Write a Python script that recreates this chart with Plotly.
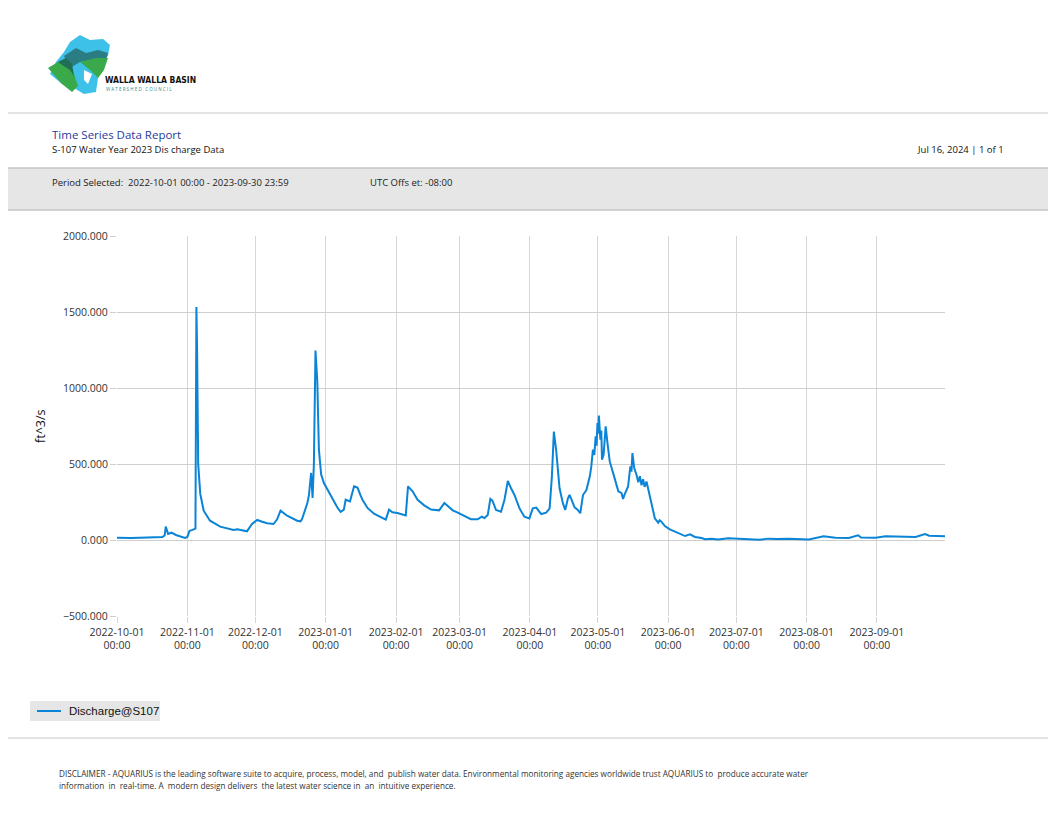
import plotly.graph_objects as go

# discharge readings (ft^3/s)
times = [
    "2022-10-01 00:00", "2022-10-04", "2022-10-07", "2022-10-11", "2022-10-15", "2022-10-19",
    "2022-10-21", "2022-10-22 00:00", "2022-10-22 12:00", "2022-10-23 12:00", "2022-10-25", "2022-10-27",
    "2022-10-29", "2022-10-31", "2022-11-01", "2022-11-02", "2022-11-03", "2022-11-04 00:00",
    "2022-11-04 14:00", "2022-11-05 00:00", "2022-11-05 07:00", "2022-11-05 19:00", "2022-11-06 17:00",
    "2022-11-08 05:00", "2022-11-11", "2022-11-15 12:00", "2022-11-21 10:00", "2022-11-23",
    "2022-11-25 19:00", "2022-11-27 07:00", "2022-11-29 12:00", "2022-12-01 19:00", "2022-12-04",
    "2022-12-06 05:00", "2022-12-09", "2022-12-10 14:00", "2022-12-12 02:00", "2022-12-15",
    "2022-12-19 10:00", "2022-12-20 22:00", "2022-12-21 14:00", "2022-12-22 10:00", "2022-12-23 22:00",
    "2022-12-24 14:00", "2022-12-25 14:00", "2022-12-26 05:00", "2022-12-26 19:00", "2022-12-27 12:00",
    "2022-12-28 07:00", "2022-12-29 00:00", "2022-12-30", "2022-12-31 05:00", "2023-01-03 05:00",
    "2023-01-06 02:00", "2023-01-07 14:00", "2023-01-09 00:00", "2023-01-09 19:00", "2023-01-11 17:00",
    "2023-01-13 12:00", "2023-01-15", "2023-01-16 10:00", "2023-01-17 05:00", "2023-01-19 10:00",
    "2023-01-22 07:00", "2023-01-25 07:00", "2023-01-27 12:00", "2023-01-28 22:00", "2023-01-30 10:00",
    "2023-02-01 14:00", "2023-02-05 07:00", "2023-02-06 07:00", "2023-02-08 07:00", "2023-02-10 12:00",
    "2023-02-13 10:00", "2023-02-16 10:00", "2023-02-20", "2023-02-22 07:00", "2023-02-24",
    "2023-02-26", "2023-02-28 05:00", "2023-03-03 02:00", "2023-03-06", "2023-03-09",
    "2023-03-10 19:00", "2023-03-12", "2023-03-13 10:00", "2023-03-14 14:00", "2023-03-15 12:00",
    "2023-03-17 02:00", "2023-03-19 07:00", "2023-03-20 19:00", "2023-03-22 07:00", "2023-03-23 17:00",
    "2023-03-25 05:00", "2023-03-27 10:00", "2023-03-29 14:00", "2023-03-31 19:00", "2023-04-02 07:00",
    "2023-04-03 19:00", "2023-04-06", "2023-04-08 05:00", "2023-04-09 17:00", "2023-04-10 17:00",
    "2023-04-11 14:00", "2023-04-12 14:00", "2023-04-14 02:00", "2023-04-15 14:00", "2023-04-16 14:00",
    "2023-04-17 19:00", "2023-04-18 12:00", "2023-04-19 12:00", "2023-04-20 17:00", "2023-04-22",
    "2023-04-23 05:00", "2023-04-24 10:00", "2023-04-25 22:00", "2023-04-27 10:00", "2023-04-28 02:00",
    "2023-04-28 19:00", "2023-04-29 10:00", "2023-04-30 00:00", "2023-04-30 10:00", "2023-04-30 19:00",
    "2023-05-01 02:00", "2023-05-01 10:00", "2023-05-02 02:00", "2023-05-02 12:00", "2023-05-02 19:00",
    "2023-05-03 12:00", "2023-05-04 10:00", "2023-05-05 05:00", "2023-05-06 05:00", "2023-05-07 17:00",
    "2023-05-09 05:00", "2023-05-10", "2023-05-11 10:00", "2023-05-12 02:00", "2023-05-12 19:00",
    "2023-05-14 07:00", "2023-05-15 07:00", "2023-05-15 19:00", "2023-05-16 05:00", "2023-05-17",
    "2023-05-18 00:00", "2023-05-18 19:00", "2023-05-19 12:00", "2023-05-20 05:00", "2023-05-20 22:00",
    "2023-05-21 14:00", "2023-05-22 10:00", "2023-05-23 10:00", "2023-05-24 14:00", "2023-05-26 02:00",
    "2023-05-27 14:00", "2023-05-28 05:00", "2023-05-29", "2023-05-30 12:00", "2023-06-01 17:00",
    "2023-06-04 17:00", "2023-06-06 22:00", "2023-06-08 10:00", "2023-06-10 14:00", "2023-06-12 19:00",
    "2023-06-15 17:00", "2023-06-17 05:00", "2023-06-20", "2023-06-23", "2023-06-27 12:00",
    "2023-07-01", "2023-07-05", "2023-07-11", "2023-07-15", "2023-07-19", "2023-07-24",
    "2023-07-28", "2023-08-02", "2023-08-08 12:00", "2023-08-13 17:00", "2023-08-19 14:00",
    "2023-08-23 17:00", "2023-08-25", "2023-08-31 10:00", "2023-09-04 19:00", "2023-09-12 05:00",
    "2023-09-18", "2023-09-22 05:00", "2023-09-24", "2023-09-30 23:45",
]
discharge = [
    15, 12, 13, 15, 16, 17,
    19, 30, 88, 40, 48, 33,
    25, 14, 20, 60, 65, 70,
    75, 1533, 1270, 500, 303,
    193, 127, 88, 66, 70,
    62, 57, 105, 132, 120,
    110, 105, 136, 193, 160,
    127, 123, 138, 178, 243,
    292, 441, 277, 500, 1246,
    1044, 594, 430, 375, 295,
    215, 185, 200, 265, 254,
    353, 345, 292, 265, 211,
    173, 151, 134, 200, 182,
    178, 162, 353, 320, 265,
    228, 200, 195, 243, 222,
    195, 180, 156, 137, 136,
    153, 145, 164, 270, 259,
    197, 186, 263, 388, 340,
    296, 208, 153, 142, 208,
    213, 171, 180, 208, 417,
    713, 592, 340, 241, 198,
    274, 297, 260, 215, 200,
    176, 296, 329, 417, 484,
    594, 560, 682, 620, 770,
    700, 818, 660, 720, 528,
    560, 748, 638, 517, 440,
    348, 320, 308, 270, 300,
    352, 484, 450, 572, 473,
    429, 380, 420, 360, 400,
    350, 385, 319, 220, 143,
    114, 130, 121, 92, 70,
    48, 37, 26, 37, 20,
    13, 5, 8, 4, 12,
    8, 4, 1, 9, 6, 9,
    7, 4, 24, 15, 13,
    31, 16, 15, 24, 22,
    20, 39, 28, 24,
]
series_name = "Discharge@S107"
month_ticks = [
    "2022-10-01", "2022-11-01", "2022-12-01", "2023-01-01", "2023-02-01", "2023-03-01",
    "2023-04-01", "2023-05-01", "2023-06-01", "2023-07-01", "2023-08-01", "2023-09-01",
]

# page is drawn with the browser's 8px body margin, so work in page pixels minus 8
OFF = 8
W, H = 1056 - OFF, 816 - OFF
L, R, T, B = 117, 945, 236, 616


def px(x):
    return (x - L) / (R - L)


def py(y):
    return (B - y) / (B - T)


def poly(points):
    return "M " + " L ".join(f"{px(a):.4f},{py(b):.4f}" for a, b in points) + " Z"


fig = go.Figure()
fig.add_trace(go.Scatter(
    x=times, y=discharge, mode="lines", name=series_name,
    line=dict(color="#0a84d6", width=2),
))

shapes = [
    # header separators and grey band
    dict(type="line", x0=px(0), x1=px(1056), y0=py(113), y1=py(113), line=dict(color="#c8c8c8", width=1)),
    dict(type="rect", x0=px(0), x1=px(1056), y0=py(168), y1=py(210), fillcolor="#e6e6e6",
         line=dict(width=0), layer="below"),
    dict(type="line", x0=px(0), x1=px(1056), y0=py(168), y1=py(168), line=dict(color="#c4c4c4", width=1.5)),
    dict(type="line", x0=px(0), x1=px(1056), y0=py(210), y1=py(210), line=dict(color="#c4c4c4", width=1.5)),
    dict(type="line", x0=px(0), x1=px(1056), y0=py(738), y1=py(738), line=dict(color="#c8c8c8", width=1)),
    # rough logo
    dict(type="path", path=poly([(70, 42), (80, 35), (90, 40), (103, 39), (110, 45), (108, 56), (100, 64),
                                 (98, 78), (96, 92), (84, 94), (74, 88), (62, 84), (50, 74), (56, 62), (64, 52)]),
         fillcolor="#3dc1e8", line=dict(width=0)),
    dict(type="path", path=poly([(64, 56), (76, 48), (86, 53), (98, 50), (108, 53), (106, 60), (92, 60),
                                 (80, 62), (70, 68)]),
         fillcolor="#2b7d84", line=dict(width=0)),
    dict(type="path", path=poly([(48, 68), (58, 62), (68, 66), (74, 74), (78, 86), (72, 92), (62, 84)]),
         fillcolor="#3aa94a", line=dict(width=0)),
    dict(type="path", path=poly([(58, 62), (66, 58), (72, 64), (74, 76), (70, 70)]),
         fillcolor="#1f6e55", line=dict(width=0)),
    dict(type="path", path=poly([(80, 62), (96, 58), (108, 58), (104, 70), (98, 78), (90, 70)]),
         fillcolor="#3aa94a", line=dict(width=0)),
    dict(type="path", path=poly([(84, 70), (92, 74), (88, 84), (84, 80)]),
         fillcolor="#ffffff", line=dict(width=0)),
    # legend box
    dict(type="rect", x0=px(30), x1=px(160), y0=py(701), y1=py(721), fillcolor="#e6e6e6", line=dict(width=0)),
    dict(type="line", x0=px(37), x1=px(61), y0=py(711), y1=py(711), line=dict(color="#0a84d6", width=2)),
]
for s in shapes:
    s.update(xref="paper", yref="paper")

annotations = [
    dict(x=px(50), y=py(135), text="Time Series Data Report", font=dict(size=11.5, color="#1f3c9c")),
    dict(x=px(50), y=py(149), text="S-107 Water Year 2023 Dis charge Data", font=dict(size=9.5, color="#111111")),
    dict(x=px(1006), y=py(149), text="Jul 16, 2024 | 1 of 1", xanchor="right",
         font=dict(size=9.5, color="#111111")),
    dict(x=px(50), y=py(182), text="Period Selected:  2022-10-01 00:00 - 2023-09-30 23:59",
         font=dict(size=9.5, color="#222222")),
    dict(x=px(368), y=py(182), text="UTC Offs et: -08:00", font=dict(size=9.5, color="#222222")),
    dict(x=px(103), y=py(80), text="<b>WALLA WALLA BASIN</b>",
         font=dict(size=8.5, color="#111111", family="DejaVu Sans Condensed")),
    dict(x=px(104), y=py(89), text="W A T E R S H E D   C O U N C I L",
         font=dict(size=4.5, color="#2b8a90")),
    dict(x=px(57), y=py(773),
         text="DISCLAIMER - AQUARIUS is the leading software suite to acquire, process, model, and  publish water data. "
              "Environmental monitoring agencies worldwide trust AQUARIUS to  produce accurate water",
         font=dict(size=8.2, color="#333333")),
    dict(x=px(57), y=py(785),
         text="information  in  real-time. A  modern design delivers  the latest water science in  an  intuitive experience.",
         font=dict(size=8.2, color="#333333")),
    dict(x=px(40), y=0.5, text="ft^3/s", textangle=-90, xanchor="center",
         font=dict(size=12.5, color="#111111")),
    dict(x=px(67), y=py(711), text=series_name,
         font=dict(size=11.5, color="#111111", family="Liberation Sans, Arial, sans-serif")),
]
for a in annotations:
    a.update(xref="paper", yref="paper", showarrow=False, yanchor="middle")
    a.setdefault("xanchor", "left")
    a["font"].setdefault("family", "Open Sans, Noto Sans, sans-serif")

fig.update_layout(
    width=W, height=H, autosize=False,
    margin=dict(l=L - OFF, r=W - (R - OFF), t=T - OFF, b=H - (B - OFF), pad=0),
    paper_bgcolor="white", plot_bgcolor="white",
    font=dict(family="Open Sans, Noto Sans, sans-serif", size=10.5, color="#333333"),
    shapes=shapes, annotations=annotations,
    showlegend=False,
)
fig.update_xaxes(
    type="date", range=["2022-10-01", "2023-09-30 23:59"],
    tickmode="array", tickvals=month_ticks, tickformat="%Y-%m-%d<br>%H:%M",
    showgrid=True, gridcolor="#d6d6d6", gridwidth=1,
    ticks="outside", ticklen=6, tickcolor="#d6d6d6",
    showline=False, zeroline=False, tickfont=dict(size=10.5, color="#333333"),
)
fig.update_yaxes(
    range=[-500, 2000], dtick=500, tickformat=".3f",
    showgrid=True, gridcolor="#cfcfcf", gridwidth=1,
    ticks="outside", ticklen=6, tickcolor="#cfcfcf",
    showline=False, zeroline=False, tickfont=dict(size=10.5, color="#333333"),
)

fig.write_html("out.html")
